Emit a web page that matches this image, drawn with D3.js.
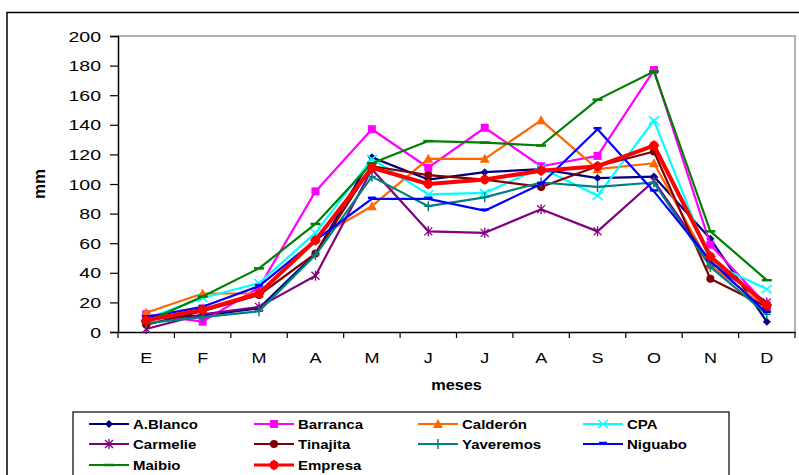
<!DOCTYPE html>
<html><head><meta charset="utf-8">
<script src="https://cdn.jsdelivr.net/npm/d3@7"></script>
<style>body{margin:0;background:#fff}svg{display:block}text{font-family:"Liberation Sans",Arial,sans-serif}</style>
</head><body>
<svg id="c" width="799" height="475"></svg>
<script>
const months = ["E","F","M","A","M","J","J","A","S","O","N","D"];
const yTicks = [0,20,40,60,80,100,120,140,160,180,200];
const seriesNames = ["A.Blanco","Barranca","Calderón","CPA","Carmelie","Tinajita","Yaveremos","Niguabo","Maibio","Empresa"];
const aBlanco   = [9, 11, 16, 53, 118, 103, 108, 110, 104, 105, 63, 7];
const barranca  = [12, 7, 30, 95, 137, 111, 138, 112, 119, 177, 59, 18];
const calderon  = [13, 26, 26, 63, 85, 117, 117, 143, 110, 114, 45, 16];
const cpa       = [9, 23, 33, 67, 117, 93, 94, 111, 92, 143, 47, 29];
const carmelie  = [2, 12, 17, 38, 110, 68, 67, 83, 68, 102, 47, 20];
const tinajita  = [5, 14, 25, 53, 112, 106, 103, 98, 112, 122, 36, 17];
const yaveremos = [6, 10, 14, 52, 105, 85, 91, 101, 98, 101, 44, 12];
const niguabo   = [10, 17, 31, 62, 90, 90, 82, 100, 137, 95, 48, 13];
const maibio    = [7, 24, 43, 73, 114, 129, 128, 126, 157, 176, 68, 35];
const empresa   = [8, 15, 26, 62, 111, 100, 103, 109, 112, 126, 51, 18];
const seriesValues = [aBlanco, barranca, calderon, cpa, carmelie, tinajita, yaveremos, niguabo, maibio, empresa];

const colors  = ["#000080","#FF00FF","#FF6600","#00FFFF","#800080","#800000","#008080","#0000FF","#008000","#FF0000"];
const markers = ["diamond","square","triangle","x","star","circle","plus","dash","longdash","diamondBig"];

const svg = d3.select("#c");
const L = 118, R = 795, T = 36, B = 332;
const x = d3.scaleBand().domain(d3.range(12)).range([L, R]);
const y = d3.scaleLinear().domain([0, 200]).range([B, T]);

// outer frame
svg.append("path").attr("d","M7,480V12.5H805").attr("fill","none").attr("stroke","#000").attr("stroke-width",1.5);

// plot border (gray top/right)
svg.append("path").attr("d",`M${L},${T}H${R}V${B}`).attr("fill","none").attr("stroke","#999").attr("stroke-width",1.5);

function sText(g, tx, ty, str, opts) {
  const gg = g.append("g").attr("transform", `translate(${tx},${ty})`);
  return gg.append("text").attr("transform", `scale(${opts.sx||1},1)`)
    .attr("text-anchor", opts.anchor||"start").attr("font-size", opts.size)
    .attr("font-weight", opts.weight||"normal").attr("fill","#000").text(str);
}

// y axis
const yAxis = svg.append("g").attr("transform",`translate(${L},0)`)
  .call(d3.axisLeft(y).tickValues(yTicks).tickSize(8).tickFormat(""));
yAxis.select(".domain").attr("stroke","#000").attr("stroke-width",1.5);
yAxis.selectAll(".tick line").attr("stroke","#000").attr("stroke-width",1.2);
yTicks.forEach(v => sText(svg, 101, y(v)+5.5, String(v), {size:15, sx:1.3, anchor:"end"}));

// x axis
const xAxis = svg.append("g").attr("transform",`translate(0,${B})`)
  .call(d3.axisBottom(x).tickSize(0).tickFormat(""));
xAxis.select(".domain").attr("stroke","#000").attr("stroke-width",1.5);
d3.range(13).forEach(i => {
  const xx = L + i * x.step();
  svg.append("line").attr("x1",xx).attr("x2",xx).attr("y1",B).attr("y2",B+6).attr("stroke","#000").attr("stroke-width",1.2);
});
months.forEach((m,i) => sText(svg, x(i)+x.bandwidth()/2, 363, m, {size:15, sx:1.2, anchor:"middle"}));

// axis titles
sText(svg, (L+R)/2, 390, "meses", {size:15.5, weight:"bold", sx:1.05, anchor:"middle"});
svg.append("text").attr("transform",`translate(45,${(T+B)/2}) rotate(-90)`).attr("text-anchor","middle")
  .attr("font-size",17).attr("font-weight","bold").text("mm");

function drawMarker(g, type, cx, cy, color) {
  const s = 4;
  switch(type) {
    case "diamond":
      g.append("path").attr("d",`M${cx},${cy-s}L${cx+s},${cy}L${cx},${cy+s}L${cx-s},${cy}Z`).attr("fill",color); break;
    case "diamondBig":
      g.append("path").attr("d",`M${cx},${cy-5.5}L${cx+5.5},${cy}L${cx},${cy+5.5}L${cx-5.5},${cy}Z`).attr("fill",color);
      g.append("circle").attr("cx",cx).attr("cy",cy).attr("r",4.5).attr("fill",color); break;
    case "square":
      g.append("rect").attr("x",cx-4).attr("y",cy-4).attr("width",8).attr("height",8).attr("fill",color); break;
    case "triangle":
      g.append("path").attr("d",`M${cx},${cy-5}L${cx+5},${cy+4}L${cx-5},${cy+4}Z`).attr("fill",color); break;
    case "circle":
      g.append("circle").attr("cx",cx).attr("cy",cy).attr("r",4).attr("fill",color); break;
    case "x":
      g.append("path").attr("d",`M${cx-5},${cy-4}L${cx+5},${cy+4}M${cx-5},${cy+4}L${cx+5},${cy-4}`).attr("stroke",color).attr("stroke-width",1.5); break;
    case "star":
      g.append("path").attr("d",`M${cx-4},${cy-4}L${cx+4},${cy+4}M${cx-4},${cy+4}L${cx+4},${cy-4}M${cx},${cy-5}V${cy+5}`).attr("stroke",color).attr("stroke-width",1.3); break;
    case "plus":
      g.append("path").attr("d",`M${cx-4},${cy}H${cx+4}M${cx},${cy-5}V${cy+5}`).attr("stroke",color).attr("stroke-width",1.5); break;
    case "dash":
      g.append("path").attr("d",`M${cx-4},${cy-1}H${cx+4}`).attr("stroke",color).attr("stroke-width",2.5); break;
    case "longdash":
      g.append("path").attr("d",`M${cx-5},${cy}H${cx+5}`).attr("stroke",color).attr("stroke-width",2.5); break;
  }
}

const line = d3.line().x((d,i) => x(i)+x.bandwidth()/2).y(d => y(d));
seriesValues.forEach((vals, k) => {
  const g = svg.append("g");
  const isE = k === 9;
  g.append("path").datum(vals).attr("d", line).attr("fill","none")
    .attr("stroke", colors[k]).attr("stroke-width", isE ? 4 : 2.2).attr("stroke-linejoin","round");
  vals.forEach((v,i) => drawMarker(g, markers[k], x(i)+x.bandwidth()/2, y(v), colors[k]));
});

// legend
svg.append("rect").attr("x",73).attr("y",412).attr("width",656).attr("height",80)
  .attr("fill","#fff").attr("stroke","#000").attr("stroke-width",1.2);
const colX = [89, 254, 418, 583];
const rowY = [424, 444, 465];
seriesNames.forEach((name,k) => {
  const cx = colX[k % 4], cy = rowY[Math.floor(k / 4)];
  const g = svg.append("g");
  g.append("line").attr("x1",cx).attr("x2",cx+40).attr("y1",cy).attr("y2",cy)
    .attr("stroke",colors[k]).attr("stroke-width", k===9 ? 3 : 2);
  drawMarker(g, markers[k], cx+20, cy, colors[k]);
  sText(svg, cx+44, cy+4.5, name, {size:12, weight:"bold", sx:1.25});
});
</script>
</body></html>
